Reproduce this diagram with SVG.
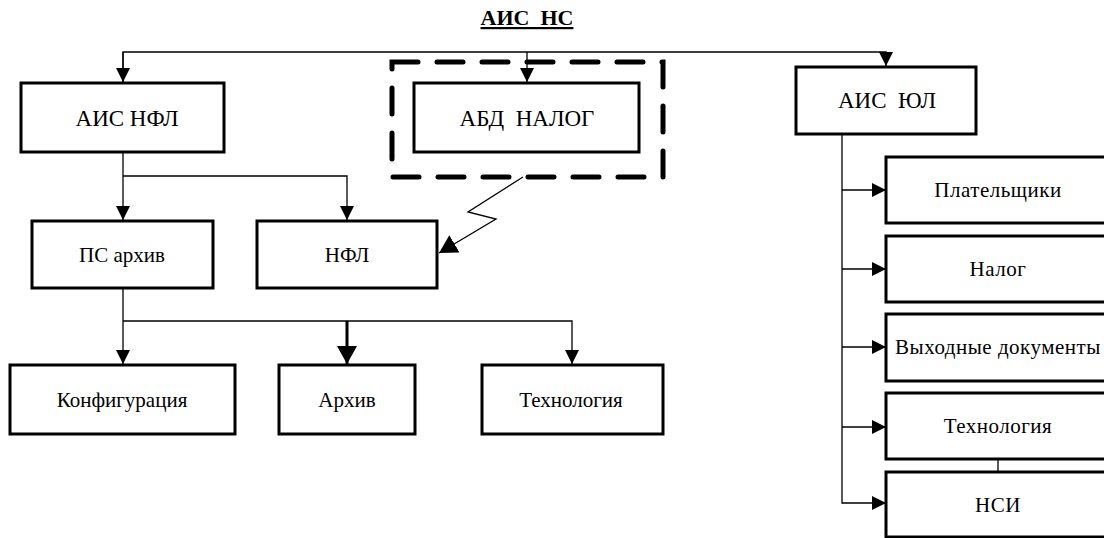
<svg xmlns="http://www.w3.org/2000/svg" width="1104" height="538" viewBox="0 0 1104 538">
<style>
.box{fill:#fff;stroke:#000;stroke-width:3}
text{font-family:'Liberation Serif','Times New Roman',serif;fill:#000;text-anchor:middle}
.t1{font-size:23px}
.t2{font-size:21px}
.t3{font-size:21px;letter-spacing:0.5px}
.c{fill:none;stroke:#000;stroke-width:1.3}
.ct{fill:none;stroke:#000;stroke-width:3}
</style>
<defs>
<marker id="ah" markerUnits="userSpaceOnUse" markerWidth="14" markerHeight="14" refX="14" refY="7" orient="auto" viewBox="0 0 14 14">
<path d="M0,0 L14,7 L0,14 z" fill="#000"/>
</marker>
<marker id="ahb" markerUnits="userSpaceOnUse" markerWidth="18" markerHeight="20" refX="18" refY="10" orient="auto" viewBox="0 0 18 20">
<path d="M0,0 L18,10 L0,20 z" fill="#000"/>
</marker>
</defs>
<text x="527" y="25" font-size="22" font-weight="bold" text-decoration="underline" xml:space="preserve">АИС  НС</text>
<g id="connectors">
<path class="c" d="M123,83 V52 H886 V66" marker-end="url(#ah)"/>
<path class="c" d="M123,52 V82" marker-end="url(#ah)"/>
<path class="c" d="M527,52 V82" marker-end="url(#ah)"/>
<path class="c" d="M123,152 V220" marker-end="url(#ah)"/>
<path class="c" d="M123,176 H347 V220" marker-end="url(#ah)"/>
<path class="c" d="M523,177 L468,212 L496,219 L439,253" marker-end="url(#ahb)"/>
<path class="c" d="M123,288 V364" marker-end="url(#ah)"/>
<path class="c" d="M123,321 H572 V364" marker-end="url(#ah)"/>
<path class="ct" d="M347,321 V364" marker-end="url(#ahb)"/>
<path class="c" d="M842,134 V503 H886" marker-end="url(#ah)"/>
<path class="c" d="M842,190 H886" marker-end="url(#ah)"/>
<path class="c" d="M842,269 H886" marker-end="url(#ah)"/>
<path class="c" d="M842,347 H886" marker-end="url(#ah)"/>
<path class="c" d="M842,427 H886" marker-end="url(#ah)"/>
<path class="c" d="M998,459 V472"/>
</g>
<g id="abd-group">
<rect x="392" y="62" width="271" height="115" fill="none" stroke="#000" stroke-width="5" stroke-dasharray="26 19" stroke-linecap="round"/>
</g>
<g id="ais-nfl"><rect class="box" x="21" y="83" width="203" height="69"/><text class="t1" x="127" y="126">АИС НФЛ</text></g>
<g id="abd-nalog"><rect class="box" x="414" y="83" width="225" height="69"/><text class="t1" x="527" y="126" xml:space="preserve">АБД  НАЛОГ</text></g>
<g id="ais-yul"><rect class="box" x="796" y="67" width="180" height="67"/><text class="t1" x="887" y="108" xml:space="preserve">АИС  ЮЛ</text></g>
<g id="ps-arhiv"><rect class="box" x="32" y="221" width="181" height="67"/><text class="t2" x="122" y="262">ПС архив</text></g>
<g id="nfl"><rect class="box" x="257" y="221" width="180" height="67"/><text class="t2" x="347" y="262">НФЛ</text></g>
<g id="konfig"><rect class="box" x="10" y="365" width="225" height="69"/><text class="t2" x="122" y="407">Конфигурация</text></g>
<g id="arhiv"><rect class="box" x="279" y="365" width="136" height="69"/><text class="t2" x="347" y="407">Архив</text></g>
<g id="tehn1"><rect class="box" x="482" y="365" width="181" height="69"/><text class="t2" x="571" y="407">Технология</text></g>
<g id="plat"><rect class="box" x="886" y="157" width="224" height="66"/><text class="t3" x="998" y="197">Плательщики</text></g>
<g id="nalog"><rect class="box" x="886" y="236" width="224" height="66"/><text class="t3" x="998" y="276">Налог</text></g>
<g id="vyh"><rect class="box" x="886" y="314" width="224" height="67"/><text class="t3" x="998" y="354">Выходные документы</text></g>
<g id="tehn2"><rect class="box" x="886" y="393" width="224" height="66"/><text class="t3" x="998" y="433">Технология</text></g>
<g id="nsi"><rect class="box" x="886" y="472" width="224" height="65"/><text class="t3" x="998" y="512">НСИ</text></g>
</svg>
